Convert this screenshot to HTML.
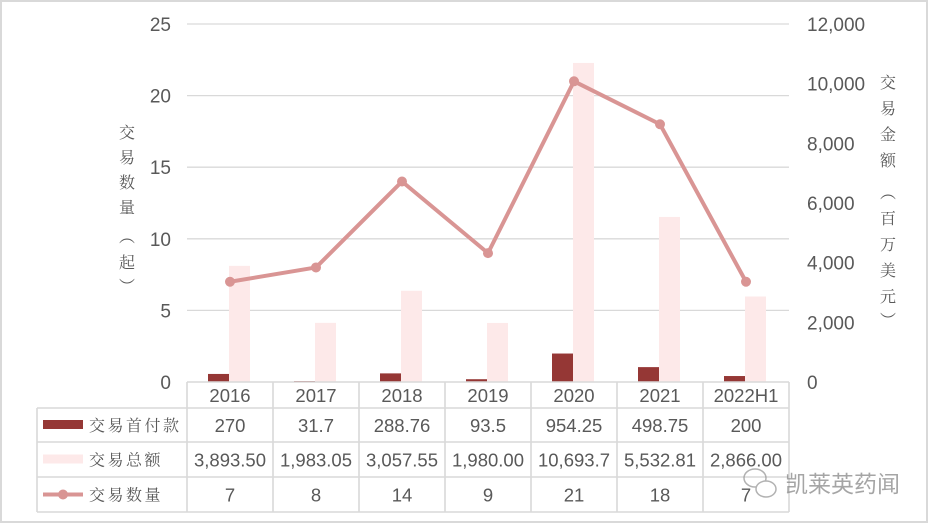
<!DOCTYPE html>
<html><head><meta charset="utf-8"><style>
body{margin:0;background:#fff}
svg{display:block}
text{font-family:"Liberation Sans","Noto Sans CJK SC",sans-serif;fill:#595959}
.cn{font-family:"Liberation Serif","Noto Serif CJK SC",serif;fill:#595959}
</style></head><body>
<svg id="chart" width="928" height="523" viewBox="0 0 928 523">
<rect x="1" y="1" width="926" height="521" fill="#fff" stroke="#d9d9d9" stroke-width="2"/>
<g id="grid"></g><g id="bars"></g><g id="line"></g><g id="axes"></g><g id="table"></g>
<text class="cn" x="127" y="0" font-size="16">
<tspan x="119" y="138">交</tspan><tspan x="119" y="163">易</tspan><tspan x="119" y="188">数</tspan><tspan x="119" y="213">量</tspan><tspan x="119" y="242">︵</tspan><tspan x="119" y="268">起</tspan><tspan x="119" y="292">︶</tspan></text>
<text class="cn" font-size="16">
<tspan x="880" y="88">交</tspan><tspan x="880" y="114">易</tspan><tspan x="880" y="140">金</tspan><tspan x="880" y="166">额</tspan><tspan x="880" y="198">︵</tspan><tspan x="880" y="224">百</tspan><tspan x="880" y="250">万</tspan><tspan x="880" y="276">美</tspan><tspan x="880" y="302">元</tspan><tspan x="880" y="326">︶</tspan></text>
<g opacity="0.75">
<ellipse cx="755" cy="478" rx="11" ry="9" fill="none" stroke="#999" stroke-width="1.5"/>
<ellipse cx="766" cy="489" rx="10" ry="8" fill="#fff" stroke="#999" stroke-width="1.5"/>
<text x="785" y="492" font-size="23" style="fill:#888">凯莱英药闻</text>
</g>
</svg>
<script>
const categories=["2016","2017","2018","2019","2020","2021","2022H1"];
const upfront=[270,31.7,288.76,93.5,954.25,498.75,200];
const total=[3893.50,1983.05,3057.55,1980.00,10693.7,5532.81,2866.00];
const counts=[7,8,14,9,21,18,7];
const upfrontLabels=["270","31.7","288.76","93.5","954.25","498.75","200"];
const totalLabels=["3,893.50","1,983.05","3,057.55","1,980.00","10,693.7","5,532.81","2,866.00"];
const leftTicks=[0,5,10,15,20,25];
const rightTicks=[0,2000,4000,6000,8000,10000,12000];
const rightTickLabels=["0","2,000","4,000","6,000","8,000","10,000","12,000"];

const NS="http://www.w3.org/2000/svg";
const X0=187,CW=86,Y0=382,YT=24;
const yL=v=>Y0-(v/25)*(Y0-YT);
const yR=v=>Y0-(v/12000)*(Y0-YT);
const xC=i=>X0+CW*i+CW/2;
function mk(tag,attrs,parent,txt){const e=document.createElementNS(NS,tag);for(const k in attrs)e.setAttribute(k,attrs[k]);if(txt!==undefined)e.textContent=txt;document.getElementById(parent).appendChild(e);return e;}
leftTicks.forEach((t,i)=>{
 if(t>0){const l=mk('line',{x1:X0,x2:X0+CW*7,y1:yL(t),y2:yL(t),stroke:'#d9d9d9','stroke-width':1.3},'grid');
 
 }
 const tx=mk('text',{x:171,y:yL(t)+7,'text-anchor':'end','font-size':19},'axes',String(t));
 
 
});
rightTicks.forEach((t,i)=>{
 const tx=mk('text',{x:807,y:yR(t)+7,'font-size':19},'axes',rightTickLabels[i]);
 
 
});
categories.forEach((c,i)=>{
 const cx=xC(i);
 const b1=mk('rect',{x:cx-22,y:yR(upfront[i]),width:21,height:Y0-yR(upfront[i]),fill:'#953735'},'bars');
 
 
 const b2=mk('rect',{x:cx-1,y:yR(total[i]),width:21,height:Y0-yR(total[i]),fill:'#fde9e9'},'bars');
 
 
});
const pts=counts.map((v,i)=>xC(i)+','+yL(v)).join(' ');
const pl=mk('polyline',{points:pts,fill:'none',stroke:'#d99594','stroke-width':4,'stroke-linejoin':'round'},'line');


counts.forEach((v,i)=>{
 const p=mk('circle',{cx:xC(i),cy:yL(v),r:5,fill:'#d99594'},'line');
 
 
});
const rows=[382,408,442,477,512];
const TL=37,TR=X0+CW*7;
const st={stroke:'#d9d9d9','stroke-width':1.6};
for(let r=0;r<rows.length;r++){
 const x1=r==0?X0:TL;
 const l=mk('line',Object.assign({x1:x1,x2:TR,y1:rows[r],y2:rows[r]},st),'table');
 
 
}
for(let c=0;c<=7;c++){
 const l=mk('line',Object.assign({x1:X0+CW*c,x2:X0+CW*c,y1:382,y2:512},st),'table');
 
 
}
const lv=mk('line',Object.assign({x1:TL,x2:TL,y1:408,y2:512},st),'table');


const rowData=[categories,upfrontLabels,totalLabels,counts.map(String)];
rowData.forEach((arr,r)=>{
 const cy=(rows[r]+rows[r+1])/2+7;
 arr.forEach((s,i)=>{
  const t=mk('text',{x:xC(i),y:cy,'text-anchor':'middle','font-size':18.5},'table',s);
  
  
 });
});
const legendNames=["交易首付款","交易总额","交易数量"];
legendNames.forEach((n,r)=>{
 const cy=(rows[r+1]+rows[r+2])/2;
 if(r==0){const k=mk('rect',{x:43,y:cy-5,width:40,height:9,fill:'#953735'},'table');}
 if(r==1){const k=mk('rect',{x:43,y:cy-5,width:40,height:9,fill:'#fde9e9'},'table');}
 if(r==2){const k=mk('line',{x1:43,x2:83,y1:cy,y2:cy,stroke:'#d99594','stroke-width':4},'table');
  const d=mk('circle',{cx:63,cy:cy,r:5,fill:'#d99594'},'table');}
 const t=mk('text',{x:89,y:cy+6,'font-size':16,'letter-spacing':'2.5',class:'cn'},'table',n);
 
 
});
</script>
</body></html>
